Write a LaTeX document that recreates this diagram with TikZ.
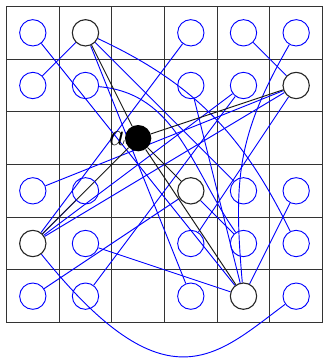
\documentclass[tikz,border=0pt]{standalone}
\usepackage{tikz}
\usetikzlibrary{backgrounds}
\begin{document}
\begin{tikzpicture}[
    spot/.style={circle, draw=blue, line width=0.5pt, minimum size=0.5cm, inner sep=0pt},
    hub/.style={circle, draw=black!85, fill=white, line width=0.6pt, minimum size=0.5cm, inner sep=0pt},
    root/.style={circle, fill=black, minimum size=0.5cm, inner sep=0pt},
    cell/.style={black!80, line width=0.6pt},
    link/.style={blue, line width=0.5pt},
    tie/.style={black!90, line width=0.5pt}
  ]
  \useasboundingbox (-0.623,0.623) rectangle (5.51,-6.231);

  % blue points
  \node[spot] (p00) at (0,0) {};  \node[spot] (p30) at (3,0) {};
  \node[spot] (p40) at (4,0) {};  \node[spot] (p50) at (5,0) {};
  \node[spot] (p01) at (0,-1) {}; \node[spot] (p11) at (1,-1) {};
  \node[spot] (p31) at (3,-1) {}; \node[spot] (p41) at (4,-1) {};
  \node[spot] (p03) at (0,-3) {}; \node[spot] (p13) at (1,-3) {};
  \node[spot] (p43) at (4,-3) {}; \node[spot] (p53) at (5,-3) {};
  \node[spot] (p14) at (1,-4) {}; \node[spot] (p34) at (3,-4) {};
  \node[spot] (p44) at (4,-4) {}; \node[spot] (p54) at (5,-4) {};
  \node[spot] (p05) at (0,-5) {}; \node[spot] (p15) at (1,-5) {};
  \node[spot] (p35) at (3,-5) {}; \node[spot] (p55) at (5,-5) {};

  % black points and the root
  \node[hub] (p10) at (1,0) {};
  \node[hub] (p51) at (5,-1) {};
  \node[hub] (p33) at (3,-3) {};
  \node[hub] (p04) at (0,-4) {};
  \node[hub] (p45) at (4,-5) {};
  \node[root, label={[font=\LARGE, label distance=-4pt]left:$a$}] (a) at (2,-2) {};

  \begin{pgfonlayer}{background}
    \draw[cell, shift={(-0.5,0.5)}] (0,0) grid (6,-6);

    % long links
    \draw[link] (p00) -- (p45);
    \draw[link] (p30) -- (p04);
    \draw[link] (p40) -- (p51);
    \draw[link] (p01) -- (p10);
    \draw[link] (p31) -- (p45);
    \draw[link] (p41) -- (p04);
    \draw[link] (p51) -- (p04);
    \draw[link] (p03) -- (p51);
    \draw[link] (p13) -- (p04);
    \draw[link] (p43) -- (p10);
    \draw[link] (p53) -- (p45);
    \draw[link] (p14) -- (p45);
    \draw[link] (p34) -- (p51);
    \draw[link] (p44) -- (p33);
    \draw[link] (p05) -- (p33);
    \draw[link] (p15) -- (p41);
    \draw[link] (p35) -- (p10);
    \draw[link] (p10) to[out=-25, in=116] (p54);
    \draw[link] (p11) to[out=-5, in=125] (p44);
    \draw[link] (p50) to[out=-120, in=95, looseness=1.1] (p45);
    \draw[link] (p04) .. controls (2.55,-7.18) and (3.5,-6.11) .. (p55);

    % edges of a
    \draw[tie] (a) -- (p10);
    \draw[tie] (a) -- (p51);
    \draw[tie] (a) -- (p33);
    \draw[tie] (a) -- (p04);
    \draw[tie] (a) -- (p45);
  \end{pgfonlayer}
\end{tikzpicture}
\end{document}
